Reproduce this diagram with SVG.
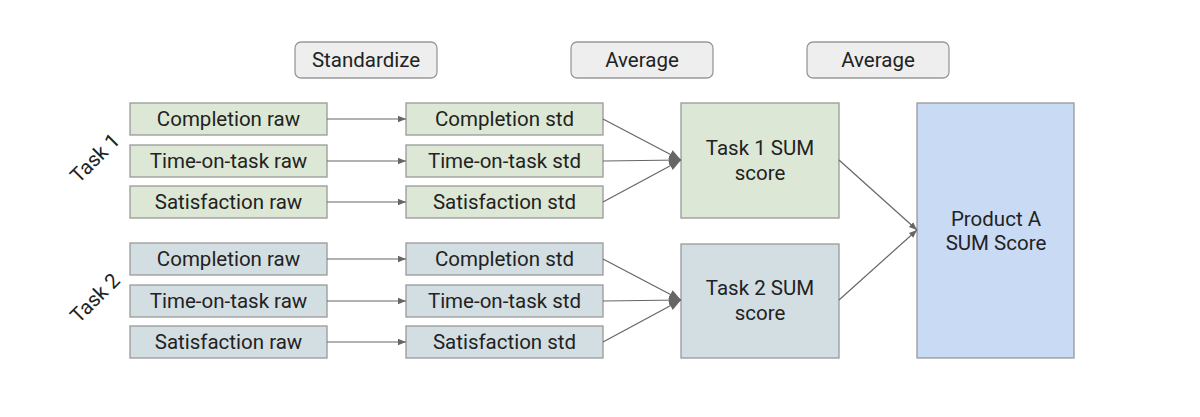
<svg xmlns="http://www.w3.org/2000/svg" width="1200" height="417" viewBox="0 0 1200 417">
<defs>
<marker id="ah" viewBox="0 0 10 10" refX="10" refY="5" markerWidth="8" markerHeight="8" markerUnits="userSpaceOnUse" orient="auto">
<path d="M0,1 L10,5 L0,9 z" fill="#666"/>
</marker>
<marker id="ahb" viewBox="0 0 10 10" refX="10" refY="5" markerWidth="12" markerHeight="12" markerUnits="userSpaceOnUse" orient="auto">
<path d="M0,1 L10,5 L0,9 z" fill="#666"/>
</marker>
</defs>
<style>
text{font-family:Roboto,"Liberation Sans",sans-serif;font-size:20.5px;fill:#222;text-anchor:middle;dominant-baseline:central}
.lbl{fill:#eeeeee;stroke:#999;stroke-width:1.3}
.g{fill:#dce8d5;stroke:#999;stroke-width:1.3}
.b{fill:#d3dee3;stroke:#999;stroke-width:1.3}
.p{fill:#c9daf4;stroke:#999;stroke-width:1.3}
.c{stroke:#666;stroke-width:1.2;fill:none}
</style>
<rect width="1200" height="417" fill="#fff"/>
<g id="lbl-standardize"><rect class="lbl" x="295" y="42" width="142" height="36" rx="6"/><text x="366" y="60">Standardize</text></g>
<g id="lbl-average1"><rect class="lbl" x="571" y="42" width="142" height="36" rx="6"/><text x="642" y="60">Average</text></g>
<g id="lbl-average2"><rect class="lbl" x="807" y="42" width="142" height="36" rx="6"/><text x="878" y="60">Average</text></g>
<g id="task1-label"><text transform="translate(95,158) rotate(-45)">Task 1</text></g>
<g id="task2-label"><text transform="translate(95,298) rotate(-45)">Task 2</text></g>
<g id="t1-comp-raw"><rect class="g" x="130" y="103" width="197" height="32"/><text x="228.5" y="119">Completion raw</text></g>
<g id="t1-time-raw"><rect class="g" x="130" y="145" width="197" height="32"/><text x="228.5" y="161">Time-on-task raw</text></g>
<g id="t1-sat-raw"><rect class="g" x="130" y="186" width="197" height="32"/><text x="228.5" y="202">Satisfaction raw</text></g>
<g id="t1-comp-std"><rect class="g" x="406" y="103" width="197" height="32"/><text x="504.5" y="119">Completion std</text></g>
<g id="t1-time-std"><rect class="g" x="406" y="145" width="197" height="32"/><text x="504.5" y="161">Time-on-task std</text></g>
<g id="t1-sat-std"><rect class="g" x="406" y="186" width="197" height="32"/><text x="504.5" y="202">Satisfaction std</text></g>
<g id="t2-comp-raw"><rect class="b" x="130" y="243" width="197" height="32"/><text x="228.5" y="259">Completion raw</text></g>
<g id="t2-time-raw"><rect class="b" x="130" y="285" width="197" height="32"/><text x="228.5" y="301">Time-on-task raw</text></g>
<g id="t2-sat-raw"><rect class="b" x="130" y="326" width="197" height="32"/><text x="228.5" y="342">Satisfaction raw</text></g>
<g id="t2-comp-std"><rect class="b" x="406" y="243" width="197" height="32"/><text x="504.5" y="259">Completion std</text></g>
<g id="t2-time-std"><rect class="b" x="406" y="285" width="197" height="32"/><text x="504.5" y="301">Time-on-task std</text></g>
<g id="t2-sat-std"><rect class="b" x="406" y="326" width="197" height="32"/><text x="504.5" y="342">Satisfaction std</text></g>
<g id="t1-sum"><rect class="g" x="681" y="103" width="158" height="115"/><text x="760" y="148">Task 1 SUM</text><text x="760" y="173">score</text></g>
<g id="t2-sum"><rect class="b" x="681" y="244" width="158" height="114"/><text x="760" y="288">Task 2 SUM</text><text x="760" y="313">score</text></g>
<g id="product"><rect class="p" x="917" y="103" width="157" height="255"/><text x="996" y="219">Product A</text><text x="996" y="243">SUM Score</text></g>
<g id="connectors">
<line class="c" x1="327" y1="119" x2="406" y2="119" marker-end="url(#ah)"/>
<line class="c" x1="327" y1="161" x2="406" y2="161" marker-end="url(#ah)"/>
<line class="c" x1="327" y1="202" x2="406" y2="202" marker-end="url(#ah)"/>
<line class="c" x1="327" y1="259" x2="406" y2="259" marker-end="url(#ah)"/>
<line class="c" x1="327" y1="301" x2="406" y2="301" marker-end="url(#ah)"/>
<line class="c" x1="327" y1="342" x2="406" y2="342" marker-end="url(#ah)"/>
<line class="c" x1="603" y1="119" x2="681" y2="160" marker-end="url(#ahb)"/>
<line class="c" x1="603" y1="161" x2="681" y2="160" marker-end="url(#ahb)"/>
<line class="c" x1="603" y1="202" x2="681" y2="160" marker-end="url(#ahb)"/>
<line class="c" x1="603" y1="259" x2="681" y2="300" marker-end="url(#ahb)"/>
<line class="c" x1="603" y1="301" x2="681" y2="300" marker-end="url(#ahb)"/>
<line class="c" x1="603" y1="342" x2="681" y2="300" marker-end="url(#ahb)"/>
<line class="c" x1="839" y1="160" x2="917" y2="230" marker-end="url(#ah)"/>
<line class="c" x1="839" y1="300" x2="917" y2="230" marker-end="url(#ah)"/>
</g>
</svg>
